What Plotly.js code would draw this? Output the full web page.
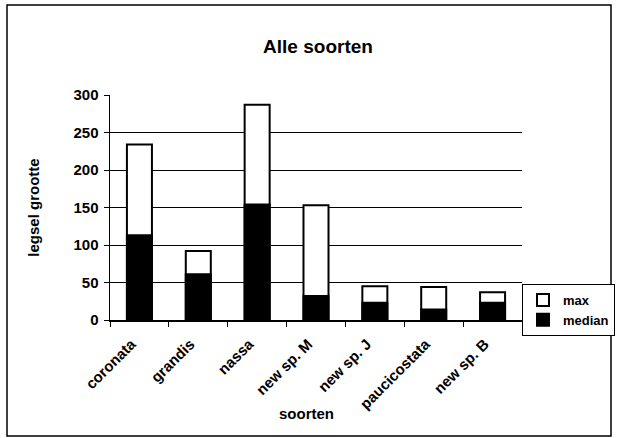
<!DOCTYPE html>
<html>
<head>
<meta charset="utf-8">
<script src="https://cdn.plot.ly/plotly-3.0.1.min.js"></script>
<style>
html,body{margin:0;padding:0;background:#fff;}
#chart{width:618px;height:438px;}
</style>
</head>
<body>
<div id="chart"></div>
<script>
var categories = ["coronata", "grandis", "nassa", "new sp. M", "new sp. J", "paucicostata", "new sp. B"];
var maxValues = [234, 92, 287, 153, 45, 44, 37];
var medianValues = [113, 61, 154, 32, 23, 14, 23];
var yTicks = [0, 50, 100, 150, 200, 250, 300];

var F = "Liberation Sans, Arial, sans-serif";

var traces = [
  {
    type: "bar", name: "max", x: categories, y: maxValues,
    marker: {color: "#ffffff", line: {color: "#000000", width: 2}}
  },
  {
    type: "bar", name: "median", x: categories, y: medianValues,
    marker: {color: "#000000", line: {color: "#000000", width: 2}}
  }
];

var W = 618, H = 438, L = 110, R = 96, T = 95, B = 118;
var pw = W - L - R, ph = H - T - B;
function px2x(p){ return (p - L) / pw; }
function px2y(p){ return (H - B - p) / ph; }

var layout = {
  width: W, height: H,
  margin: {l: L, r: R, t: T, b: B, pad: 0, autoexpand: false},
  paper_bgcolor: "#ffffff", plot_bgcolor: "#ffffff",
  barmode: "overlay",
  bargap: 0.575,
  font: {family: F, color: "#000", size: 15},
  title: {text: "<b>Alle soorten</b>", font: {family: F, size: 19, color: "#000"}, x: 312 / W, xanchor: "center", xref: "paper", y: 1 - 46 / H, yanchor: "middle"},
  xaxis: {
    type: "category",
    tickangle: -45,
    tickson: "boundaries",
    ticks: "outside", ticklen: 5, tickcolor: "#000", tickwidth: 1,
    ticklabelstandoff: 8,
    ticklabelshift: -8,
    showline: true, linecolor: "#000", linewidth: 1.5,
    showgrid: false,
    tickfont: {family: F, size: 15, color: "#000", weight: "bold"},
    title: {text: ""}
  },
  yaxis: {
    range: [0, 300],
    tickvals: yTicks,
    ticktext: yTicks.map(String),
    ticks: "outside", ticklen: 5, tickcolor: "#000",
    ticklabelstandoff: 2,
    showline: true, linecolor: "#000", linewidth: 1.5,
    showgrid: true, gridcolor: "#000", gridwidth: 1,
    zeroline: false,
    tickfont: {family: F, size: 15, color: "#000", weight: "bold"},
    title: {text: "<b>legsel grootte</b>", font: {family: F, size: 15, color: "#000"}, standoff: 30}
  },
  legend: {
    x: px2x(522), xanchor: "left",
    y: px2y(284), yanchor: "top",
    bordercolor: "#000", borderwidth: 1,
    bgcolor: "#fff",
    font: {family: F, size: 13, color: "#000", weight: "bold"},
    traceorder: "normal",
    itemwidth: 30,
    tracegroupgap: 0
  },
  annotations: [
    {text: "<b>soorten</b>", xref: "paper", yref: "paper", x: px2x(306), y: px2y(413), xanchor: "center", yanchor: "middle", showarrow: false, font: {family: F, size: 15, color: "#000"}}
  ],
  shapes: [
    {type: "rect", xref: "paper", yref: "paper", x0: px2x(7), x1: px2x(611), y0: px2y(436), y1: px2y(5), line: {color: "#000", width: 1.5}, layer: "below"}
  ],
  showlegend: true
};

Plotly.newPlot("chart", traces, layout, {staticPlot: true, displayModeBar: false});
</script>
</body>
</html>
